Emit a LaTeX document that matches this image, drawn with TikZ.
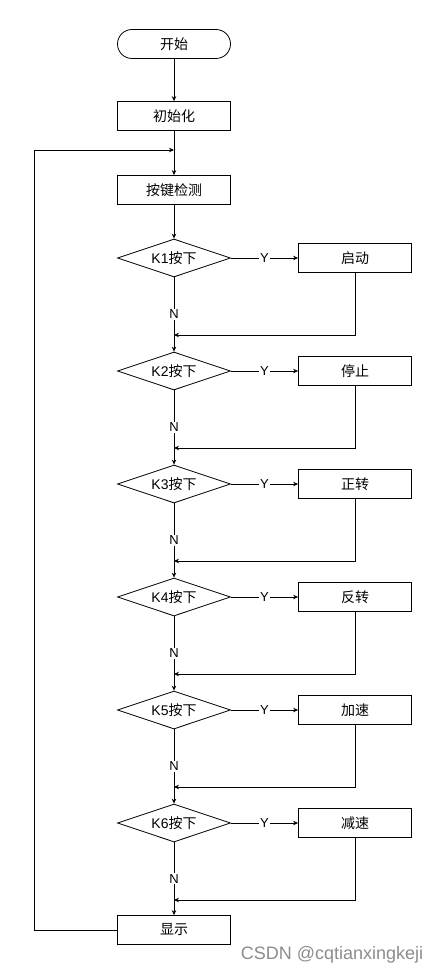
\documentclass[tikz,border=0pt]{standalone}
\usepackage{fontspec}
\setmainfont{Liberation Sans}
\newfontfamily\cjk{Noto Sans CJK SC}
\usetikzlibrary{shapes.geometric,arrows.meta}
\begin{document}
\begin{tikzpicture}[x=1pt,y=-1pt,
  box/.style={draw,rectangle,minimum width=113pt,minimum height=29pt,inner sep=0pt,font=\cjk\fontsize{14}{16}\selectfont},
  term/.style={box,rounded corners=14.5pt},
  dia/.style={draw,diamond,aspect=3,minimum width=113pt,minimum height=38pt,inner sep=0pt,font=\fontsize{14}{16}\selectfont},
  lbl/.style={fill=white,inner sep=1pt,font=\fontsize{13}{15}\selectfont},
  arr/.style={-{Stealth[length=5pt,width=4.5pt]}},
  line width=0.8pt]
\useasboundingbox (0,0) rectangle (438,976);
\node[term] (start) at (174,44) {开始};
\node[box] (init) at (174,116) {初始化};
\node[box] (scan) at (174,190) {按键检测};
\node[box] (disp) at (174,930) {显示};
\coordinate (loop) at (174,150);
\coordinate (lcorner) at (34,150);
\draw[arr] (start) -- (init);
\draw[arr] (init) -- (scan);
\draw[arr] (disp.west) -| (lcorner) -- (loop);
\foreach \i/\t in {1/启动,2/停止,3/正转,4/反转,5/加速,6/减速}{
  \pgfmathsetmacro{\yy}{258+113*(\i-1)}
  \node[dia] (k\i) at (174,\yy) {K\i{\cjk 按下}};
  \node[box] (a\i) at (355,\yy) {\t};
  \coordinate (m\i) at (174,\yy+77);
  \draw[arr] (k\i) -- node[lbl]{Y} (a\i);
  \draw[arr] (a\i.south) |- (m\i);
}
\draw[arr] (scan) -- (k1);
\foreach \i/\n in {1/k2,2/k3,3/k4,4/k5,5/k6,6/disp}{
  \draw[arr] (k\i) -- node[lbl,pos=0.5]{N} (\n);
}
\node[anchor=east,text=black!45,font=\fontsize{18}{20}\selectfont] (wm) at (427,955) {CSDN @cqtianxingkeji};
\end{tikzpicture}
\end{document}
